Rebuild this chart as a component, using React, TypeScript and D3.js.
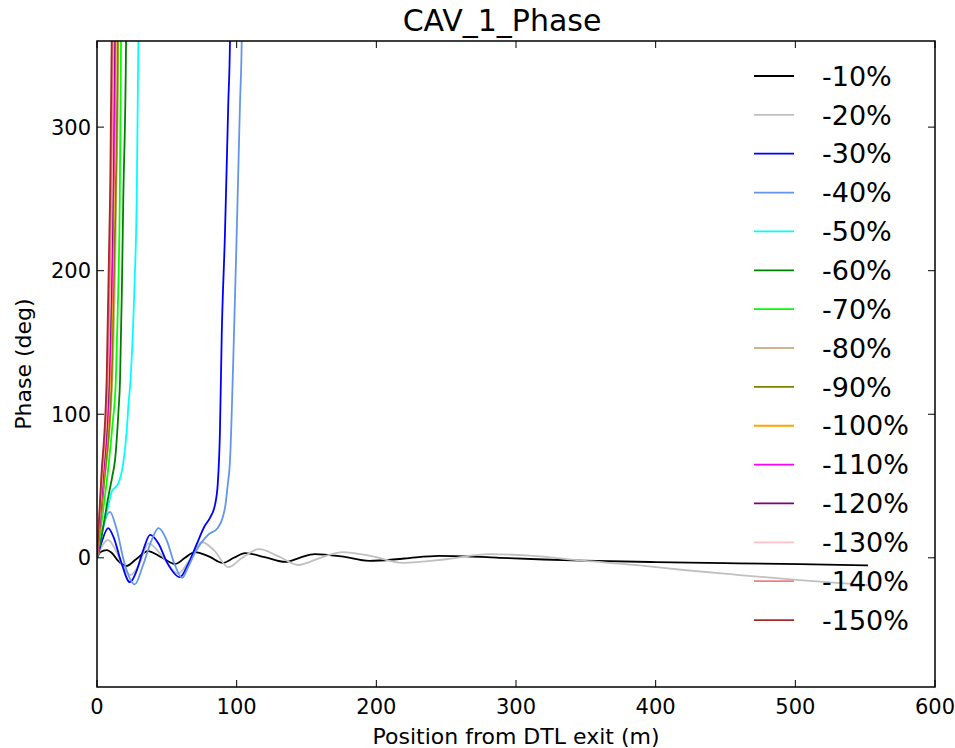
import React from "react";
import * as d3 from "d3";

type Pt = [number, number];

const xTicks = [0, 100, 200, 300, 400, 500, 600];
const yTicks = [0, 100, 200, 300];
const seriesLabels = ["-10%", "-20%", "-30%", "-40%", "-50%", "-60%", "-70%", "-80%", "-90%", "-100%", "-110%", "-120%", "-130%", "-140%", "-150%"];
const seriesColors = ["#000000", "#c0c0c0", "#0000ff", "#6495ed", "#00ffff", "#008000", "#00ff00", "#d2b48c", "#808000", "#ffa500", "#ff00ff", "#800080", "#ffc0cb", "#f08080", "#a52a2a"];

const s10: Pt[] = [[0,0],[2.5,4],[7,5.4],[11,3],[15,-2],[21,-5.7],[28,-1],[36.5,4.7],[46,0.5],[56,-4.3],[63,0],[70,4],[80,1],[90,-3.6],[98,0],[106,3.3],[120,0.5],[135,-2.9],[145,0],[156,2.6],[175,1],[195,-2.2],[220,-0.5],[245,1.3],[265,1],[288,0],[320,-1.2],[348,-2],[400,-3],[450,-3.7],[503,-4.4],[552,-5.3]];
const s20: Pt[] = [[0,0],[3,7],[8,12.4],[13,6],[18,-5],[24,-12],[30,-5],[37,10],[46,2],[58,-11],[66,-2],[75,11],[84,5],[94,-6.5],[104,0],[116,6],[130,1],[144,-5],[160,0],[176,4],[195,1.5],[219,-3.5],[250,-1],[281,2.6],[310,1.5],[348,-2],[385,-5],[420,-8.5],[460,-12],[503,-15.5],[552,-19]];
const s30: Pt[] = [[0,0],[3,10],[8,20.7],[12,14],[17,-2],[23.6,-17],[28,-10],[33,5],[38,16],[44,10],[50,-3],[59.4,-13.5],[65,-5],[71.6,10],[77,22],[81,28],[84.5,37],[86.5,52],[88,87],[89.3,155],[91.6,225],[94,317],[95.2,359],[95.6,390]];
const s40: Pt[] = [[0,0],[4,20],[9.3,32],[14,20],[20,-5],[27,-18.5],[33,-5],[39,12],[44,20.7],[50,12],[55,-3],[61,-14],[65,-7],[70,3.3],[79.5,16],[86.6,21],[90,28],[92,37],[93.5,50],[95.2,67],[97.4,132],[100,225],[102.4,317],[103.6,359],[104,390]];
const s50: Pt[] = [[0,0],[3,15],[6,28],[8.5,38],[10.5,46],[15.3,52],[18.8,66],[21.3,89],[22.4,105],[24,124],[26.7,186],[28.4,249],[29.6,359],[29.8,390]];
const s60: Pt[] = [[0,0],[3.3,15],[8,42],[11,57],[12.9,68],[15.3,101],[16.5,124],[17.8,186],[18.8,249],[20.8,359],[21,390]];
const s70: Pt[] = [[0,0],[4,30],[8,62],[11,92],[13.5,124],[14.8,170],[16.3,249],[17.2,359],[17.4,390]];
const s80: Pt[] = [[0,0],[5,50],[11,124],[13.8,249],[15.3,359],[15.5,390]];
const s90: Pt[] = [[0,0],[4.8,50],[10.5,124],[13.3,249],[14.8,359],[15,390]];
const s100: Pt[] = [[0,0],[4.5,55],[9.3,124],[12,249],[13.4,359],[13.6,390]];
const s110: Pt[] = [[0,0],[4.3,55],[8.8,124],[11.6,249],[12.9,359],[13.1,390]];
const s120: Pt[] = [[0,0],[4,55],[8.3,124],[11,249],[12.2,359],[12.4,390]];
const s130: Pt[] = [[0,0],[3.6,55],[7.8,124],[10.5,249],[11.7,359],[11.9,390]];
const s140: Pt[] = [[0,0],[3.3,55],[7.4,124],[10,249],[11.2,359],[11.4,390]];
const s150: Pt[] = [[0,0],[3,55],[6.9,124],[9.3,249],[10.5,359],[10.7,390]];

const allSeries = [s10, s20, s30, s40, s50, s60, s70, s80, s90, s100, s110, s120, s130, s140, s150];

const W = 955, H = 748;
const L = 97, R = 935, T = 41, B = 687;
const FONT = "DejaVu Sans";

export default function App() {
  const x = d3.scaleLinear().domain([0, 600]).range([L, R]);
  const y = d3.scaleLinear().domain([-90, 360]).range([B, T]);
  const line = d3.line<Pt>().x(d => x(d[0])).y(d => y(d[1])).curve(d3.curveMonotoneX);
  const tick = 7;
  const legendX = 754, legendY0 = 76, legendStep = 38.86;
  return (
    <svg width={W} height={H} style={{ position: "absolute", left: 0, top: 0, background: "#fff" }} fontFamily={FONT}>
      <defs>
        <clipPath id="plotclip"><rect x={L} y={T} width={R - L} height={B - T} /></clipPath>
      </defs>
      <rect x={0} y={0} width={W} height={H} fill="#fff" />
      <g clipPath="url(#plotclip)">
        {allSeries.map((s, i) => (
          <path key={i} d={line(s) || ""} fill="none" stroke={seriesColors[i]} strokeWidth={1.8} />
        ))}
      </g>
      {xTicks.map(t => (
        <g key={"x" + t}>
          <line x1={x(t)} x2={x(t)} y1={B} y2={B - tick} stroke="#000" strokeWidth={1} />
          <line x1={x(t)} x2={x(t)} y1={T} y2={T + tick} stroke="#000" strokeWidth={1} />
          <text x={x(t)} y={714} textAnchor="middle" fontSize={21}>{t}</text>
        </g>
      ))}
      {yTicks.map(t => (
        <g key={"y" + t}>
          <line x1={L} x2={L + tick} y1={y(t)} y2={y(t)} stroke="#000" strokeWidth={1} />
          <line x1={R} x2={R - tick} y1={y(t)} y2={y(t)} stroke="#000" strokeWidth={1} />
          <text x={91} y={y(t)} dy="0.36em" textAnchor="end" fontSize={21}>{t}</text>
        </g>
      ))}
      <rect x={L} y={T} width={R - L} height={B - T} fill="none" stroke="#000" strokeWidth={1.5} />
      <text x={502} y={31} textAnchor="middle" fontSize={30}>CAV_1_Phase</text>
      <text x={(L + R) / 2} y={744} textAnchor="middle" fontSize={22}>Position from DTL exit (m)</text>
      <text transform={`translate(31,${(T + B) / 2}) rotate(-90)`} textAnchor="middle" fontSize={22}>Phase (deg)</text>
      {seriesLabels.map((lab, i) => (
        <g key={lab}>
          <line x1={legendX} x2={legendX + 40} y1={legendY0 + i * legendStep} y2={legendY0 + i * legendStep} stroke={seriesColors[i]} strokeWidth={1.8} />
          <text x={822} y={legendY0 + i * legendStep} dy="0.36em" fontSize={27}>{lab}</text>
        </g>
      ))}
    </svg>
  );
}
